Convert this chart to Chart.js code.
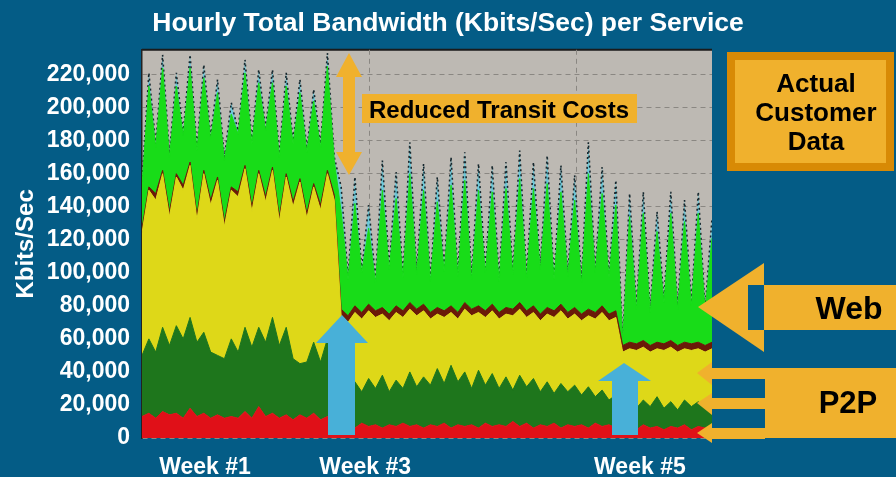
<!DOCTYPE html>
<html>
<head>
<meta charset="utf-8">
<title>Hourly Total Bandwidth per Service</title>
<script src="https://cdn.jsdelivr.net/npm/chart.js@4.4.1/dist/chart.umd.min.js"></script>
<style>
  html, body { margin: 0; padding: 0; background: #045c86; }
  #wrap { position: relative; width: 896px; height: 477px; overflow: hidden; }
  #chart { position: absolute; left: 0; top: 0; }
  #notes { position: absolute; left: 0; top: 0; pointer-events: none; }
  #notes text { font-family: 'Liberation Sans', Arial, sans-serif; font-weight: bold; fill: #000; }
</style>
</head>
<body>
<div id="wrap">
  <canvas id="chart" width="896" height="477"></canvas>
  <svg id="notes" width="896" height="477" xmlns="http://www.w3.org/2000/svg">
    <!-- reduced transit costs -->
    <polygon points="349,53 362,77 355,77 355,152 362,152 349,175 336,152 343,152 343,77 336,77" fill="#f0b12d"/>
    <rect x="362" y="94" width="275" height="29" fill="#f0b12d"/>
    <text x="499" y="109" font-size="24" text-anchor="middle" dominant-baseline="central">Reduced Transit Costs</text>

    <!-- actual customer data -->
    <rect x="727" y="52" width="167" height="119" fill="#d88a05"/>
    <rect x="735" y="60" width="151" height="103" fill="#f0b12d"/>
    <text x="816" y="83" font-size="26" text-anchor="middle" dominant-baseline="central">Actual</text>
    <text x="816" y="112" font-size="26" text-anchor="middle" dominant-baseline="central">Customer</text>
    <text x="816" y="141" font-size="26" text-anchor="middle" dominant-baseline="central">Data</text>

    <!-- blue arrows -->
    <polygon points="342,315 368,343 355,343 355,435 328,435 328,343 316,343" fill="#48b0d8"/>
    <polygon points="624,363 651,381 638,381 638,435 612,435 612,381 598,381" fill="#48b0d8"/>

    <!-- web -->
    <polygon points="698,307 764,263 764,352" fill="#f0b12d"/>
    <rect x="748" y="285" width="16" height="45" fill="#045c86"/>
    <rect x="764" y="285" width="132" height="45" fill="#f0b12d"/>
    <text x="849" y="308" font-size="32" text-anchor="middle" dominant-baseline="central">Web</text>

    <!-- p2p -->
    <rect x="765" y="368" width="131" height="70" fill="#f0b12d"/>
    <rect x="712" y="368" width="53" height="11" fill="#f0b12d"/>
    <rect x="712" y="398" width="53" height="11" fill="#f0b12d"/>
    <rect x="712" y="428" width="53" height="11" fill="#f0b12d"/>
    <polygon points="697,373 712,362 712,385" fill="#f0b12d"/>
    <polygon points="697,403 712,393 712,415" fill="#f0b12d"/>
    <polygon points="697,433 712,423 712,443" fill="#f0b12d"/>
    <text x="848" y="402" font-size="31" text-anchor="middle" dominant-baseline="central">P2P</text>
  </svg>
</div>
<script>
const FONT = "'Liberation Sans', Arial, sans-serif";
const PAGE_BLUE = '#045c86';

// top edge of each band, in thousands of Kbits/Sec, one reading every 12 hours
const redTop = [
  13,15,12,16,14,15,12,18,13,15, 12,14,12,13,12,16,12,19,13,15, 12,14,11,14,12,15,11,13,12,
  7,8,6,9,7,8,6,8,7,9, 7,8,6,8,7,9,6,8,7,8, 6,9,7,8,7,10,7,9,6,8, 7,9,6,8,7,8,6,9,7,8, 6,
  6,7,5,8,6,7,5,7,6,8,5,7,6,7
];
const darkGreenTop = [
  50,60,52,67,56,68,60,73,58,64, 52,50,48,60,52,67,55,67,58,73, 56,67,48,45,46,58,46,60,50,
  30,26,34,28,36,30,38,28,35,30, 40,31,37,32,42,33,44,34,40,30, 41,32,39,30,37,29,38,31,36,28, 34,27,33,28,32,26,31,25,29,23, 26,
  20,24,18,23,19,25,18,22,17,23,19,22,18,21
];
const yellowTop = [
  124,150,144,160,134,158,150,165,132,160, 141,156,128,150,146,163,137,160,143,162, 131,158,140,155,133,152,138,160,144,
  74,70,76,72,77,73,75,71,76,73, 78,74,77,72,75,73,76,72,78,74, 76,73,77,72,75,74,78,73,76,71, 75,73,77,72,75,71,74,72,76,71, 73,
  52,54,53,55,52,54,53,55,52,54,53,54,52,54
];
const brownTop = [
  127,152,148,162,137,160,153,167,135,162, 144,158,131,152,149,165,140,162,146,164, 134,160,143,157,136,154,141,162,147,
  78,74,80,76,81,77,79,75,80,77, 82,78,81,76,79,77,80,76,82,78, 80,77,81,76,79,78,82,77,80,75, 79,77,81,76,79,75,78,76,80,75, 77,
  56,58,57,59,56,58,57,59,56,58,57,58,56,58
];
const greenTop = [
  153,213,176,224,170,213,183,224,174,218, 181,209,168,196,184,221,178,215,186,215, 170,213,178,209,173,204,176,225,168,
  137,96,142,100,127,94,150,102,145,97, 160,99,150,95,143,101,153,98,156,96, 150,100,149,95,151,99,157,97,151,102, 154,96,149,98,144,94,160,100,148,97, 141,
  59,134,78,136,76,125,82,136,78,131,80,136,77,121
];
const cyanTop = [
  155,221,178,232,172,221,185,232,176,226, 183,217,170,203,186,229,180,223,188,223, 172,221,180,217,175,211,178,233,170,
  152,98,158,102,141,96,168,104,161,99, 179,101,166,97,158,103,170,100,173,98, 166,102,165,97,167,101,174,99,167,104, 171,98,165,100,159,96,179,102,164,99, 156,
  60,148,80,149,78,137,84,149,80,144,82,149,79,133
];

const yTicks = [0, 20000, 40000, 60000, 80000, 100000, 120000, 140000, 160000, 180000, 200000, 220000];
const weekLabels = ['Week #1', 'Week #3', 'Week #5'];
const weekLabelHours = [110, 390, 870];
const gridLineHours = [398, 760];

const hours = redTop.map((v, i) => i * 12);

const bands = [
  { label: 'P2P (red)', top: redTop, color: '#e01018' },
  { label: 'P2P (dark green)', top: darkGreenTop, color: '#1e761c' },
  { label: 'P2P (yellow)', top: yellowTop, color: '#ded818' },
  { label: 'Other', top: brownTop, color: '#6a1a08' },
  { label: 'Web', top: greenTop, color: '#18dc18' },
  { label: 'Web peak', top: cyanTop, color: '#6cc8d8', line: '#17262c' },
];

// page colour and grey plot area, plus the dark top edge
const plotBackground = {
  id: 'plotBackground',
  beforeDraw(chart) {
    const { ctx, chartArea: a } = chart;
    ctx.save();
    ctx.fillStyle = PAGE_BLUE;
    ctx.fillRect(0, 0, chart.width, chart.height);
    ctx.fillStyle = '#bdb9b3';
    ctx.fillRect(a.left, a.top, a.right - a.left, a.bottom - a.top);
    ctx.strokeStyle = '#1b1b1b';
    ctx.lineWidth = 2;
    ctx.beginPath();
    ctx.moveTo(a.left, a.top);
    ctx.lineTo(a.right, a.top);
    ctx.stroke();
    ctx.restore();
  },
};

let ctx = document.getElementById('chart').getContext('2d');

new Chart(ctx, {
  type: 'line',
  data: {
    datasets: bands.map((b, i) => ({
      label: b.label,
      data: b.top.map((v, j) => ({ x: hours[j], y: v * 1000 })),
      backgroundColor: b.color,
      borderColor: b.line || b.color,
      borderWidth: b.line ? 1.6 : 1,
      borderDash: b.line ? [2, 3] : [],
      fill: i === 0 ? 'origin' : '-1',
      pointRadius: 0,
      tension: 0,
    })),
  },
  options: {
    responsive: false,
    animation: false,
    plugins: {
      legend: { display: false },
      tooltip: { enabled: false },
      title: {
        display: true,
        text: 'Hourly Total Bandwidth (Kbits/Sec) per Service',
        color: '#fff',
        font: { family: FONT, size: 26.5, weight: 'bold' },
        padding: { top: 8, bottom: 10 },
      },
    },
    scales: {
      x: {
        type: 'linear',
        min: 0,
        max: 996,
        afterBuildTicks: (s) => { s.ticks = gridLineHours.map((v) => ({ value: v })); },
        ticks: { display: false },
        grid: { color: '#8a8782', drawTicks: false },
        border: { display: false, dash: [5, 4] },
      },
      weeks: {
        type: 'linear',
        axis: 'x',
        position: 'bottom',
        min: 0,
        max: 996,
        afterBuildTicks: (s) => { s.ticks = weekLabelHours.map((v) => ({ value: v })); },
        afterFit: (s) => { s.height = 39; },
        grid: { display: false, drawTicks: false },
        border: { display: false },
        ticks: {
          color: '#fff',
          font: { family: FONT, size: 23, weight: 'bold' },
          padding: 16,
          autoSkip: false,
          maxRotation: 0,
          callback: (v, i) => weekLabels[i],
        },
      },
      y: {
        min: 0,
        max: 235000,
        afterBuildTicks: (s) => { s.ticks = yTicks.map((v) => ({ value: v })); },
        afterFit: (s) => { s.width = 142; },
        ticks: {
          color: '#fff',
          font: { family: FONT, size: 23, weight: 'bold' },
          padding: 12,
          callback: (v) => v.toLocaleString('en-US'),
        },
        grid: { color: '#8a8782', drawTicks: false },
        border: { display: true, color: '#222', width: 1.5, dash: [5, 4] },
        title: {
          display: true,
          text: 'Kbits/Sec',
          color: '#fff',
          font: { family: FONT, size: 24, weight: 'bold' },
          padding: { top: 12, bottom: 0 },
        },
      },
      // empty strip on the right where the annotations sit
      side: {
        axis: 'y',
        position: 'right',
        afterFit: (s) => { s.width = 184; },
        ticks: { display: false },
        grid: { display: false, drawTicks: false },
        border: { display: false },
      },
    },
  },
  plugins: [plotBackground],
});
</script>
</body>
</html>
